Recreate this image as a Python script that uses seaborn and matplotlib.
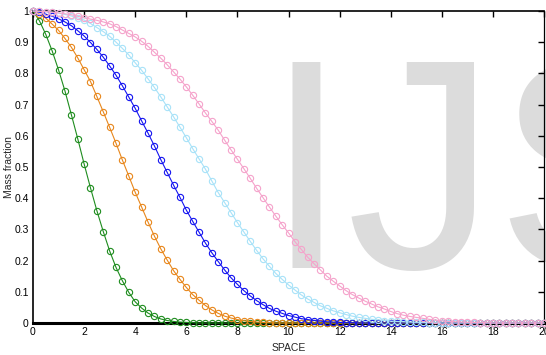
import numpy as np
import pandas as pd
import matplotlib
matplotlib.use("Agg")
import matplotlib.pyplot as plt
import seaborn as sns

space = np.arange(0, 20.001, 0.25)

green = [1.000, 0.969, 0.925, 0.872, 0.811, 0.744, 0.668, 0.591, 0.510, 0.433,
         0.360, 0.293, 0.231, 0.178, 0.135, 0.098, 0.068, 0.048, 0.032, 0.021,
         0.013, 0.008, 0.005, 0.003, 0.002, 0.001, 0.0, 0.0, 0.0, 0.0,
         0.0, 0.0, 0.0, 0.0, 0.0, 0.0, 0.0, 0.0, 0.0, 0.0,
         0.0, 0.0, 0.0, 0.0, 0.0, 0.0, 0.0, 0.0, 0.0, 0.0,
         0.0, 0.0, 0.0, 0.0, 0.0, 0.0, 0.0, 0.0, 0.0, 0.0,
         0.0, 0.0, 0.0, 0.0, 0.0, 0.0, 0.0, 0.0, 0.0, 0.0,
         0.0, 0.0, 0.0, 0.0, 0.0, 0.0, 0.0, 0.0, 0.0, 0.0, 0.0]

orange = [1.000, 0.990, 0.977, 0.958, 0.938, 0.912, 0.884, 0.850, 0.812, 0.774,
          0.726, 0.677, 0.627, 0.576, 0.522, 0.471, 0.419, 0.372, 0.324, 0.279,
          0.238, 0.202, 0.168, 0.140, 0.114, 0.091, 0.073, 0.056, 0.042, 0.031,
          0.022, 0.016, 0.011, 0.007, 0.005, 0.003, 0.002, 0.001, 0.0, 0.0,
          0.0, 0.0, 0.0, 0.0, 0.0, 0.0, 0.0, 0.0, 0.0, 0.0,
          0.0, 0.0, 0.0, 0.0, 0.0, 0.0, 0.0, 0.0, 0.0, 0.0,
          0.0, 0.0, 0.0, 0.0, 0.0, 0.0, 0.0, 0.0, 0.0, 0.0,
          0.0, 0.0, 0.0, 0.0, 0.0, 0.0, 0.0, 0.0, 0.0, 0.0, 0.0]

blue = [1.000, 0.996, 0.990, 0.983, 0.975, 0.965, 0.953, 0.937, 0.920, 0.899,
        0.877, 0.852, 0.824, 0.794, 0.760, 0.724, 0.688, 0.648, 0.609, 0.568,
        0.524, 0.483, 0.442, 0.403, 0.362, 0.326, 0.291, 0.256, 0.225, 0.197,
        0.170, 0.145, 0.124, 0.104, 0.087, 0.072, 0.059, 0.047, 0.038, 0.031,
        0.024, 0.019, 0.014, 0.011, 0.008, 0.006, 0.004, 0.003, 0.002, 0.001,
        0.001, 0.0, 0.0, 0.0, 0.0, 0.0, 0.0, 0.0, 0.0, 0.0,
        0.0, 0.0, 0.0, 0.0, 0.0, 0.0, 0.0, 0.0, 0.0, 0.0,
        0.0, 0.0, 0.0, 0.0, 0.0, 0.0, 0.0, 0.0, 0.0, 0.0, 0.0]

lightblue = [1.000, 0.999, 0.998, 0.996, 0.993, 0.989, 0.984, 0.978, 0.971, 0.960,
             0.947, 0.934, 0.919, 0.900, 0.880, 0.859, 0.834, 0.810, 0.783, 0.755,
             0.725, 0.693, 0.661, 0.628, 0.594, 0.559, 0.526, 0.493, 0.455, 0.418,
             0.386, 0.354, 0.322, 0.292, 0.262, 0.233, 0.206, 0.182, 0.159, 0.140,
             0.122, 0.106, 0.090, 0.077, 0.066, 0.055, 0.047, 0.039, 0.033, 0.027,
             0.022, 0.018, 0.015, 0.012, 0.010, 0.008, 0.006, 0.005, 0.004, 0.003,
             0.002, 0.002, 0.001, 0.001, 0.0, 0.0, 0.0, 0.0, 0.0, 0.0,
             0.0, 0.0, 0.0, 0.0, 0.0, 0.0, 0.0, 0.0, 0.0, 0.0, 0.0]

pink = [1.000, 0.999, 0.998, 0.996, 0.994, 0.991, 0.988, 0.983, 0.978, 0.974,
        0.970, 0.965, 0.959, 0.950, 0.939, 0.928, 0.917, 0.903, 0.887, 0.868,
        0.849, 0.828, 0.805, 0.782, 0.757, 0.730, 0.702, 0.673, 0.646, 0.618,
        0.586, 0.555, 0.525, 0.495, 0.464, 0.432, 0.402, 0.372, 0.343, 0.315,
        0.289, 0.261, 0.236, 0.211, 0.190, 0.170, 0.150, 0.134, 0.119, 0.104,
        0.091, 0.080, 0.070, 0.061, 0.052, 0.045, 0.037, 0.030, 0.025, 0.021,
        0.018, 0.015, 0.012, 0.009, 0.007, 0.005, 0.004, 0.003, 0.002, 0.002,
        0.001, 0.001, 0.0, 0.0, 0.0, 0.0, 0.0, 0.0, 0.0, 0.0, 0.0]

series_names = ["green", "orange", "blue", "lightblue", "pink"]
series_values = [green, orange, blue, lightblue, pink]
series_colors = ["#1e8c1e", "#e8871c", "#1414f0", "#a8e2f8", "#f5a3cb"]

xticks = [0, 2, 4, 6, 8, 10, 12, 14, 16, 18, 20]
yticks = [0, 0.1, 0.2, 0.3, 0.4, 0.5, 0.6, 0.7, 0.8, 0.9, 1]
ytick_labels = ["0", "0.1", "0.2", "0.3", "0.4", "0.5", "0.6", "0.7", "0.8", "0.9", "1"]

sns.set_style("white")
plt.rcParams["font.family"] = ["Liberation Sans", "DejaVu Sans"]

fig = plt.figure(figsize=(5.46, 3.55), dpi=100)
ax = fig.add_axes([33 / 546, 1 - 323 / 355, 511 / 546, 312 / 355])

# watermark
ax.text(264 / 546, 1 - 268 / 355, "IJS", transform=fig.transFigure,
        fontsize=215, color="#dcdcdc", ha="left", va="baseline",
        family="Liberation Sans", zorder=0.5)

for name, vals, col in zip(series_names, series_values, series_colors):
    df = pd.DataFrame({"SPACE": space, "Mass fraction": vals})
    sns.lineplot(data=df, x="SPACE", y="Mass fraction", ax=ax, color=col,
                 linewidth=0.8, marker="o", markersize=4.5,
                 markerfacecolor="none", markeredgecolor=col,
                 markeredgewidth=0.8, clip_on=False, zorder=3)

ax.set_xlim(0, 20)
ax.set_ylim(0, 1)
ax.set_xticks(xticks)
ax.set_xticklabels([str(t) for t in xticks])
ax.set_yticks(yticks)
ax.set_yticklabels(ytick_labels)
ax.tick_params(direction="in", length=4, width=1, labelsize=7.5,
               top=True, right=True, pad=3, colors="black")
ax.set_xlabel("SPACE", fontsize=7.5, labelpad=4)
ax.set_ylabel("Mass fraction", fontsize=7.5, labelpad=0.5)

for side in ["left", "top", "right"]:
    ax.spines[side].set_visible(True)
    ax.spines[side].set_color("black")
    ax.spines[side].set_linewidth(1.2)
ax.spines["bottom"].set_color("black")
ax.spines["bottom"].set_linewidth(2.2)
ax.spines["right"].set_linewidth(0.9)

fig.savefig("out.png", dpi=100)
